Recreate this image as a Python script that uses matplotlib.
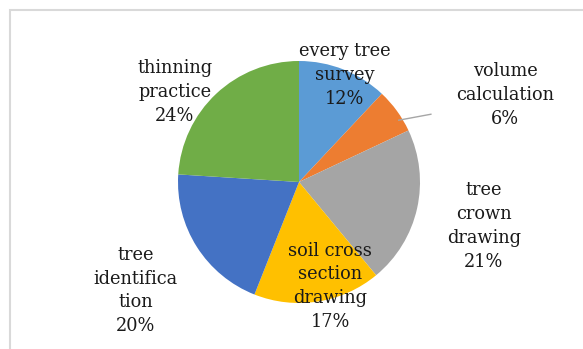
import numpy as np
import matplotlib.pyplot as plt
from matplotlib.patches import Rectangle

labels = ["every tree\nsurvey", "volume\ncalculation", "tree\ncrown\ndrawing",
          "soil cross\nsection\ndrawing", "tree\nidentifica\ntion", "thinning\npractice"]
values = [12, 6, 21, 17, 20, 24]
colors = ["#5B9BD5", "#ED7D31", "#A5A5A5", "#FFC000", "#4472C4", "#70AD47"]

# label placement: distance (in radii) and angle tweak (deg) per slice
label_dist = [0.96, 1.85, 1.57, 0.90, 1.62, 1.27]
label_turn = [-1.7, -13.1, -0.8, 7.6, 1.2, 10.8]

W, H = 583, 349
cx, cy, r = 299, 182, 121

fig = plt.figure(figsize=(W / 100, H / 100), dpi=100)
ax = fig.add_axes([0, 0, 1, 1])

# chart frame
fig.patches.append(Rectangle((10 / W, -0.1), 1.2, (H - 10) / H + 0.1,
                             transform=fig.transFigure, fill=False,
                             edgecolor="#D9D9D9", linewidth=1.5))

wedges, _ = ax.pie(values, colors=colors, startangle=90, counterclock=False,
                   radius=1, wedgeprops=dict(linewidth=0))

ax.set_aspect("auto")
ax.set_xlim(-cx / r, (W - cx) / r)
ax.set_ylim(-(H - cy) / r, cy / r)
ax.axis("off")

for w, lab, v, d, t in zip(wedges, labels, values, label_dist, label_turn):
    mid = np.deg2rad((w.theta1 + w.theta2) / 2 + t)
    x, y = d * np.cos(mid), d * np.sin(mid)
    ax.text(x, y, f"{lab}\n{v}%", ha="center", va="center",
            fontsize=12.8, family="DejaVu Serif", linespacing=1.42,
            color="#1a1a1a")

# leader line for the small slice
m = np.deg2rad((wedges[1].theta1 + wedges[1].theta2) / 2)
ax.plot([0.92 * np.cos(m) + 0.08, 1.09], [0.92 * np.sin(m) - 0.03, 0.56],
        color="#A6A6A6", linewidth=1)

fig.savefig("out.png", dpi=100)
